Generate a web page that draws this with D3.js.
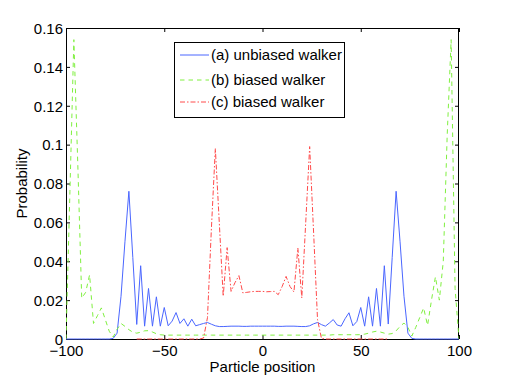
<!DOCTYPE html>
<html>
<head>
<meta charset="utf-8">
<script src="https://cdn.jsdelivr.net/npm/d3@7"></script>
<style>
  body { margin: 0; background: #fff; }
  text { font-family: "Liberation Sans", Arial, Helvetica, sans-serif; font-size: 15px; fill: #000; }
</style>
</head>
<body>
<div id="chart"></div>
<script>
/* Data */
var positions = [-100, -98, -96, -94, -92, -90, -88, -86, -84, -82, -80, -78, -76, -74, -72, -70, -68, -66, -64, -62,
  -60, -58, -56, -54, -52, -50, -48, -46, -44, -42, -40, -38, -36, -34, -32, -30, -28, -26, -24, -22,
  -20, -18, -16, -14, -12, -10, -8, -6, -4, -2, 0, 2, 4, 6, 8, 10, 12, 14, 16, 18,
  20, 22, 24, 26, 28, 30, 32, 34, 36, 38, 40, 42, 44, 46, 48, 50, 52, 54, 56, 58,
  60, 62, 64, 66, 68, 70, 72, 74, 76, 78, 80, 82, 84, 86, 88, 90, 92, 94, 96, 98, 100];

var unbiased = [0, 0, 0, 0, 0, 0, 0, 0, 0, 0, 0, 0, 0.0003, 0.003, 0.022, 0.05, 0.076, 0.042, 0.0075, 0.0377,
  0.0066, 0.026, 0.0066, 0.0217, 0.0066, 0.0162, 0.0068, 0.0092, 0.0136, 0.008, 0.0104, 0.0066, 0.0102, 0.0068, 0.0074, 0.008, 0.0085, 0.0076, 0.0068, 0.0064,
  0.0064, 0.0065, 0.0066, 0.0066, 0.0066, 0.0065, 0.0065, 0.0066, 0.0066, 0.0066, 0.0066, 0.0066, 0.0066, 0.0066, 0.0065, 0.0065, 0.0066, 0.0066, 0.0066, 0.0065,
  0.0064, 0.0064, 0.0068, 0.0078, 0.0085, 0.0074, 0.0066, 0.0082, 0.01, 0.0072, 0.0066, 0.0104, 0.0135, 0.0068, 0.009, 0.0162, 0.0066, 0.0217, 0.0066, 0.026,
  0.0066, 0.0377, 0.0077, 0.042, 0.076, 0.05, 0.022, 0.003, 0.0003, 0, 0, 0, 0, 0, 0, 0, 0, 0, 0, 0, 0];

var biased = [0, 0.076, 0.154, 0.09, 0.021, 0.024, 0.033, 0.008, 0.012, 0.016, 0.01, 0.004, 0.001, 0.005, 0.008, 0.0065, 0.0048, 0.0035, 0.003, 0.0035,
  0.0042, 0.0043, 0.0036, 0.0027, 0.0022, 0.002, 0.002, 0.002, 0.002, 0.002, 0.002, 0.002, 0.002, 0.002, 0.002, 0.002, 0.002, 0.002, 0.002, 0.002,
  0.002, 0.002, 0.002, 0.002, 0.002, 0.002, 0.002, 0.002, 0.002, 0.002, 0.002, 0.002, 0.002, 0.002, 0.002, 0.002, 0.002, 0.002, 0.002, 0.002,
  0.002, 0.002, 0.002, 0.002, 0.002, 0.002, 0.002, 0.002, 0.0022, 0.0022, 0.0022, 0.0022, 0.0022, 0.0022, 0.0022, 0.0022, 0.0025, 0.003, 0.0036, 0.004,
  0.0036, 0.003, 0.0025, 0.0028, 0.0042, 0.0065, 0.0082, 0.006, 0.0015, 0.006, 0.011, 0.016, 0.007, 0.02, 0.032, 0.02, 0.04, 0.105, 0.154, 0.026, 0];

var positionsC = [-64, -62, -60, -58, -56, -54, -52, -50, -48, -46, -44, -42, -40, -38, -36, -34, -32, -30, -28, -26,
  -24, -22, -20, -18, -16, -14, -12, -10, -8, -6, -4, -2, 0, 2, 4, 6, 8, 10, 12, 14,
  16, 18, 20, 22, 24, 26, 28, 30, 32, 34, 36, 38, 40, 42, 44, 46, 48, 50, 52, 54,
  56, 58, 60, 62, 64];

var biasedC = [0, 0, 0, 0, 0, 0, 0, 0, 0, 0, 0, 0, 0, 0, 0, 0, 0, 0.0005, 0.011, 0.057,
  0.098, 0.06, 0.022, 0.047, 0.0245, 0.029, 0.0326, 0.0237, 0.024, 0.0243, 0.0245, 0.0245, 0.0245, 0.0243, 0.0244, 0.0245, 0.0228, 0.027, 0.0322, 0.027,
  0.0242, 0.0468, 0.0211, 0.06, 0.099, 0.055, 0.01, 0.0003, 0, 0, 0, 0, 0, 0, 0, 0, 0, 0, 0, 0,
  0, 0, 0, 0, 0];

var seriesNames = ["(a) unbiased walker", "(b) biased walker", "(c) biased walker"];

var xTicks = [-100, -50, 0, 50, 100],
    xTickLabels = ["\u2212100", "\u221250", "0", "50", "100"],
    yTicks = [0, 0.02, 0.04, 0.06, 0.08, 0.1, 0.12, 0.14, 0.16],
    yTickLabels = ["0", "0.02", "0.04", "0.06", "0.08", "0.1", "0.12", "0.14", "0.16"];

/* Settings */
var width = 508,
    height = 382,
    plotLeft = 66,
    plotRight = 459,
    plotTop = 28,
    plotBottom = 339,
    tickLen = 4;

var styles = [
  {color: "#4a66ff", dash: null},
  {color: "#80f040", dash: "4.5,4"},
  {color: "#ff4a4a", dash: "5,2,1.5,2"}
];

var x = d3.scaleLinear().domain([-100, 100]).range([plotLeft, plotRight]);
var y = d3.scaleLinear().domain([0, 0.16]).range([plotBottom, plotTop]);

var svg = d3.select("#chart").append("svg")
    .attr("width", width)
    .attr("height", height)
    .attr("viewBox", "0 0 " + width + " " + height);

svg.append("defs").append("clipPath")
    .attr("id", "plotclip")
  .append("rect")
    .attr("x", plotLeft)
    .attr("y", plotTop - 1)
    .attr("width", plotRight - plotLeft)
    .attr("height", plotBottom - plotTop + 2);

/* Axes box */
svg.append("rect")
    .attr("x", plotLeft + 0.5)
    .attr("y", plotTop + 0.5)
    .attr("width", plotRight - plotLeft - 1)
    .attr("height", plotBottom - plotTop)
    .attr("fill", "none")
    .attr("stroke", "#000")
    .attr("stroke-width", 1);

function fmt(labels, ticks) {
  return function(d) { return labels[ticks.indexOf(d)]; };
}

svg.append("g")
    .attr("transform", "translate(0," + plotBottom + ")")
    .call(d3.axisBottom(x).tickValues(xTicks).tickSizeInner(-tickLen).tickSizeOuter(0).tickPadding(6)
      .tickFormat(fmt(xTickLabels, xTicks)))
    .call(function(g) { g.select(".domain").remove(); });

svg.append("g")
    .attr("transform", "translate(0," + plotTop + ")")
    .call(d3.axisTop(x).tickValues(xTicks).tickSizeInner(-tickLen).tickSizeOuter(0).tickFormat(""))
    .call(function(g) { g.select(".domain").remove(); });

svg.append("g")
    .attr("transform", "translate(" + plotLeft + ",0)")
    .call(d3.axisLeft(y).tickValues(yTicks).tickSizeInner(-tickLen).tickSizeOuter(0).tickPadding(3)
      .tickFormat(fmt(yTickLabels, yTicks)))
    .call(function(g) { g.select(".domain").remove(); g.selectAll("text").attr("dy", "0.35em"); });

svg.append("g")
    .attr("transform", "translate(" + plotRight + ",0)")
    .call(d3.axisRight(y).tickValues(yTicks).tickSizeInner(-tickLen).tickSizeOuter(0).tickFormat(""))
    .call(function(g) { g.select(".domain").remove(); });

svg.selectAll(".tick line").attr("stroke", "#000");
svg.selectAll(".tick text")
    .style("font-family", "'Liberation Sans', Arial, Helvetica, sans-serif")
    .style("font-size", "15px")
    .attr("fill", "#000");

/* Series */
var series = [
  {xs: positions, ys: unbiased},
  {xs: positions, ys: biased},
  {xs: positionsC, ys: biasedC}
];

var line = d3.line()
    .x(function(d) { return x(d[0]); })
    .y(function(d) { return y(d[1]); });

var plot = svg.append("g").attr("clip-path", "url(#plotclip)");

series.forEach(function(s, i) {
  plot.append("path")
      .datum(d3.zip(s.xs, s.ys))
      .attr("fill", "none")
      .attr("stroke", styles[i].color)
      .attr("stroke-width", 1)
      .attr("stroke-dasharray", styles[i].dash)
      .attr("d", line);
});

/* Axis labels */
svg.append("text")
    .attr("x", (plotLeft + plotRight) / 2)
    .attr("y", 372)
    .attr("text-anchor", "middle")
    .text("Particle position");

svg.append("text")
    .attr("transform", "translate(26.5," + ((plotTop + plotBottom) / 2) + ") rotate(-90)")
    .attr("text-anchor", "middle")
    .text("Probability");

/* Legend */
var legend = svg.append("g");
legend.append("rect")
    .attr("x", 174.5)
    .attr("y", 42.5)
    .attr("width", 170)
    .attr("height", 75)
    .attr("fill", "#fff")
    .attr("stroke", "#000");

var legendY = [55, 80, 102];
seriesNames.forEach(function(name, i) {
  legend.append("line")
      .attr("x1", 180).attr("x2", 209)
      .attr("y1", legendY[i]).attr("y2", legendY[i])
      .attr("stroke", styles[i].color)
      .attr("stroke-width", 1)
      .attr("stroke-dasharray", styles[i].dash);
  legend.append("text")
      .attr("x", 211)
      .attr("y", legendY[i])
      .attr("dy", "0.36em")
      .text(name);
});
</script>
</body>
</html>
